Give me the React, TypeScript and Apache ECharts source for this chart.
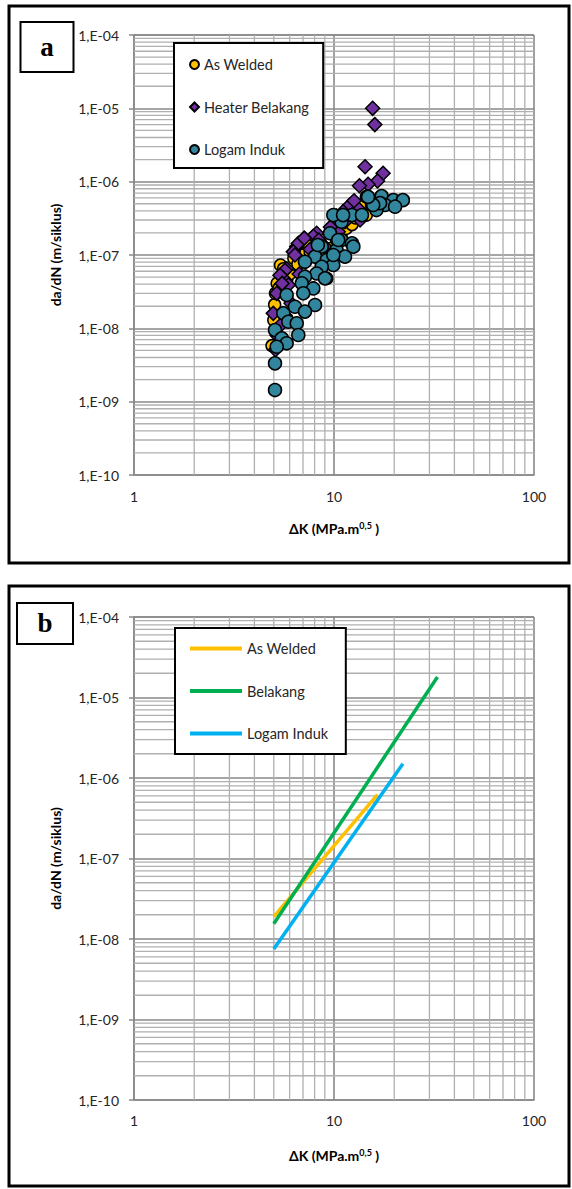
import React, { useEffect, useRef } from 'react';
import * as echarts from 'echarts';

// ---- tick labels ----
const xTickLabels: Record<number, string> = { 1: '1', 10: '10', 100: '100' };
const yTickLabels = ['1,E-10', '1,E-09', '1,E-08', '1,E-07', '1,E-06', '1,E-05', '1,E-04'];

// ---- Panel a : raw data (ΔK, da/dN) ----
const asWeldedK = [4.9, 5.0, 5.05, 5.1, 5.2, 5.3, 5.4, 5.5, 5.6, 5.8, 6.0, 6.3, 6.6, 7.0, 7.3, 7.6, 8.0, 8.6, 9.2, 9.7, 10.3, 10.9, 11.5, 12.3, 12.8, 13.8, 14.5, 15.5];
const asWeldedRate = [5.8e-9, 1.3e-8, 2.1e-8, 3.0e-8, 4.1e-8, 3.5e-8, 7.3e-8, 5.2e-8, 6.5e-8, 4.5e-8, 5.5e-8, 9.0e-8, 7.5e-8, 1.0e-7, 1.5e-7, 1.1e-7, 1.2e-7, 1.35e-7, 4.8e-8, 1.23e-7, 1.6e-7, 2.0e-7, 2.3e-7, 2.6e-7, 3.2e-7, 4.8e-7, 3.5e-7, 5.0e-7];

const heaterK = [15.6, 16.0, 14.3, 17.6, 16.5, 14.8, 13.4, 12.0, 13.2, 11.1, 13.5, 10.3, 11.35, 10.5, 8.19, 7.88, 8.4, 6.51, 6.63, 6.26, 6.38, 5.8, 5.69, 5.58, 5.37, 5.17, 5.91, 5.5, 4.97, 5.1, 5.2, 5.4, 5.7, 6.1, 6.7, 7.2, 7.6, 9.0, 9.6, 12.6, 7.1];
const heaterRate = [1.0e-5, 6.0e-6, 1.6e-6, 1.3e-6, 1.02e-6, 9.2e-7, 8.8e-7, 4.8e-7, 4.3e-7, 3.9e-7, 3.0e-7, 3.4e-7, 2.84e-7, 2.08e-7, 1.98e-7, 1.8e-7, 1.6e-7, 1.3e-7, 1.44e-7, 1.11e-7, 1.0e-7, 6.5e-8, 6.2e-8, 4.8e-8, 5.3e-8, 3.0e-8, 3.9e-8, 4.1e-8, 1.6e-8, 5.1e-9, 8.0e-9, 1.1e-8, 1.5e-8, 2.2e-8, 5.5e-8, 8.0e-8, 1.2e-7, 1.3e-7, 2.4e-7, 5.5e-7, 1.7e-7];

const logamK = [14.6, 17.3, 19.8, 22.1, 15.5, 18.0, 20.2, 16.3, 17.0, 15.7, 14.8, 12.3, 10.9, 13.8, 9.55, 10.9, 12.3, 8.68, 10.3, 11.35, 8.04, 9.2, 9.92, 8.68, 8.19, 7.16, 7.16, 9.02, 6.9, 9.92, 11.1, 10.5, 8.3, 12.5, 9.92, 7.88, 5.8, 7.02, 8.04, 6.38, 7.16, 5.58, 5.91, 6.51, 6.63, 5.07, 5.48, 5.8, 5.17, 5.07, 5.07];
const logamRate = [6.24e-7, 6.35e-7, 5.6e-7, 5.6e-7, 4.8e-7, 4.8e-7, 4.56e-7, 4.1e-7, 5.1e-7, 4.8e-7, 6.2e-7, 3.5e-7, 2.84e-7, 3.5e-7, 1.98e-7, 1.6e-7, 1.44e-7, 1.3e-7, 1.17e-7, 9.5e-8, 9.5e-8, 8.55e-8, 7.3e-8, 6.9e-8, 5.6e-8, 8.1e-8, 5.06e-8, 4.8e-8, 4.11e-8, 3.5e-7, 3.5e-7, 1.6e-7, 1.37e-7, 1.3e-7, 1.0e-7, 3.5e-8, 2.85e-8, 3.0e-8, 2.08e-8, 1.97e-8, 1.69e-8, 1.6e-8, 1.23e-8, 1.17e-8, 8.1e-9, 9.5e-9, 7.3e-9, 6.25e-9, 5.6e-9, 3.33e-9, 1.44e-9];

// ---- Panel b : fitted lines (ΔK, da/dN) ----
const fitAsWeldedK = [5.0, 16.5];
const fitAsWeldedRate = [1.9e-8, 6.2e-7];
const fitBelakangK = [5.0, 32.9];
const fitBelakangRate = [1.55e-8, 1.8e-5];
const fitLogamK = [5.0, 22.1];
const fitLogamRate = [7.5e-9, 1.5e-6];

const FONT = 'Lato, "Open Sans", sans-serif';
const TEXT = '#262626';
const MAJOR = '#888888';
const MINOR = '#b0b0b0';
const X_MIN = 1, X_MAX = 100, Y_MIN = 1e-10, Y_MAX = 1e-4;

const zip = (a: number[], b: number[]) => a.map((v, i) => [v, b[i]]);

const minorX: number[] = [];
[1, 10].forEach((d) => { for (let k = 2; k <= 9; k++) minorX.push(k * d); });
const minorY: number[] = [];
for (let e = -10; e <= -5; e++) for (let k = 2; k <= 9; k++) minorY.push(k * Math.pow(10, e));

// minor gridlines drawn as broken line series through the log axes
function gridSeries(idx: number) {
  const data: any[] = [];
  minorX.forEach((v) => { data.push([v, Y_MIN], [v, Y_MAX], [v, '-']); });
  minorY.forEach((v) => { data.push([X_MIN, v], [X_MAX, v], [X_MIN, '-']); });
  return {
    type: 'line',
    name: '_grid' + idx,
    xAxisIndex: idx,
    yAxisIndex: idx,
    data,
    silent: true,
    symbol: 'none',
    connectNulls: false,
    z: 1,
    lineStyle: { color: MINOR, width: 1.3 },
    emphasis: { disabled: true },
  };
}

const titleRich = {
  b: { fontFamily: FONT, fontWeight: 'bold', fontSize: 14, color: '#000' },
  s: { fontFamily: FONT, fontWeight: 'bold', fontSize: 9, color: '#000', verticalAlign: 'top', padding: [0, 0, 6, 0] },
};

function xAxisCfg(idx: number) {
  return {
    type: 'log',
    gridIndex: idx,
    min: X_MIN,
    max: X_MAX,
    logBase: 10,
    name: '{b|ΔK (MPa.m}{s|0,5}{b| )}',
    nameLocation: 'middle',
    nameGap: idx === 0 ? 46 : 48,
    nameTextStyle: { rich: titleRich },
    axisLine: { show: true, lineStyle: { color: MAJOR, width: 1.5 } },
    axisTick: { show: false },
    axisLabel: {
      fontFamily: FONT, fontSize: 14, color: TEXT, margin: idx === 0 ? 14 : 13,
      formatter: (v: number) => xTickLabels[Math.round(v)] ?? '',
    },
    splitLine: { show: true, lineStyle: { color: MAJOR, width: 1.6 } },
  };
}

function yAxisCfg(idx: number) {
  return {
    type: 'log',
    gridIndex: idx,
    min: Y_MIN,
    max: Y_MAX,
    logBase: 10,
    name: 'da/dN (m/siklus)',
    nameLocation: 'middle',
    nameGap: 72,
    nameTextStyle: { fontFamily: FONT, fontWeight: 'bold', fontSize: 14, color: '#000' },
    axisLine: { show: true, lineStyle: { color: MAJOR, width: 1.5 } },
    axisTick: { show: true, length: 5, lineStyle: { color: MAJOR, width: 1.5 } },
    axisLabel: {
      fontFamily: FONT, fontSize: 14, color: TEXT, margin: 15,
      formatter: (v: number) => yTickLabels[Math.round(Math.log10(v)) + 10] ?? '',
    },
    splitLine: { show: true, lineStyle: { color: MAJOR, width: 1.6 } },
  };
}

const scatterBase = {
  type: 'scatter',
  xAxisIndex: 0,
  yAxisIndex: 0,
  z: 3,
};

export default function App() {
  const ref = useRef<HTMLDivElement>(null);
  useEffect(() => {
    if (!ref.current) return;
    const chart = echarts.init(ref.current, undefined, { renderer: 'svg' });
    chart.setOption({
      animation: false,
      backgroundColor: '#fff',
      grid: [
        { left: 134, top: 35, width: 400, height: 440 },
        { left: 134, top: 617, width: 400, height: 483 },
      ],
      xAxis: [xAxisCfg(0), xAxisCfg(1)],
      yAxis: [yAxisCfg(0), yAxisCfg(1)],
      legend: [
        {
          left: 174, top: 43, orient: 'vertical',
          backgroundColor: '#fff', borderColor: '#000', borderWidth: 2,
          padding: [14, 14, 11, 15], itemGap: 27.5, itemWidth: 9, itemHeight: 9,
          textStyle: { fontFamily: FONT, fontSize: 14.5, color: TEXT },
          selectedMode: false,
          data: ['As Welded', 'Heater Belakang', 'Logam Induk'],
        },
        {
          left: 175, top: 628, orient: 'vertical',
          backgroundColor: '#fff', borderColor: '#000', borderWidth: 2,
          padding: [13, 14, 13, 15], itemGap: 27.5, itemWidth: 52, itemHeight: 4,
          icon: 'rect',
          textStyle: { fontFamily: FONT, fontSize: 14.5, color: TEXT },
          selectedMode: false,
          data: ['As Welded ', 'Belakang', 'Logam Induk '],
        },
      ],
      graphic: [
        { type: 'rect', shape: { x: 9, y: 6, width: 560, height: 557 }, style: { fill: 'none', stroke: '#000', lineWidth: 3 }, z: 100 },
        { type: 'rect', shape: { x: 9, y: 586, width: 560, height: 600 }, style: { fill: 'none', stroke: '#000', lineWidth: 3 }, z: 100 },
        { type: 'rect', shape: { x: 20.5, y: 22, width: 53, height: 50 }, style: { fill: '#fff', stroke: '#000', lineWidth: 2 }, z: 100 },
        { type: 'text', x: 47, y: 47, style: { text: 'a', font: 'bold 27px "Liberation Serif", serif', fill: '#000', align: 'center', verticalAlign: 'middle' }, z: 101 },
        { type: 'rect', shape: { x: 17, y: 603, width: 56, height: 41 }, style: { fill: '#fff', stroke: '#000', lineWidth: 2 }, z: 100 },
        { type: 'text', x: 45, y: 623, style: { text: 'b', font: 'bold 27px "Liberation Serif", serif', fill: '#000', align: 'center', verticalAlign: 'middle' }, z: 101 },
      ],
      series: [
        gridSeries(0),
        gridSeries(1),
        {
          ...scatterBase, name: 'As Welded', symbol: 'circle', symbolSize: 12,
          itemStyle: { color: '#FFC000', borderColor: '#000', borderWidth: 1.5, opacity: 1 },
          data: zip(asWeldedK, asWeldedRate),
        },
        {
          ...scatterBase, name: 'Heater Belakang', symbol: 'diamond', symbolSize: 14,
          itemStyle: { color: '#7030A0', borderColor: '#000', borderWidth: 1.5, opacity: 1 },
          data: zip(heaterK, heaterRate),
        },
        {
          ...scatterBase, name: 'Logam Induk', symbol: 'circle', symbolSize: 13,
          itemStyle: { color: '#31859C', borderColor: '#000', borderWidth: 1.5, opacity: 1 },
          data: zip(logamK, logamRate),
        },
        {
          type: 'line', name: 'As Welded ', xAxisIndex: 1, yAxisIndex: 1, symbol: 'none', z: 3,
          lineStyle: { color: '#FFC000', width: 3.5 }, itemStyle: { color: '#FFC000' },
          data: zip(fitAsWeldedK, fitAsWeldedRate),
        },
        {
          type: 'line', name: 'Belakang', xAxisIndex: 1, yAxisIndex: 1, symbol: 'none', z: 3,
          lineStyle: { color: '#00B050', width: 3.5 }, itemStyle: { color: '#00B050' },
          data: zip(fitBelakangK, fitBelakangRate),
        },
        {
          type: 'line', name: 'Logam Induk ', xAxisIndex: 1, yAxisIndex: 1, symbol: 'none', z: 3,
          lineStyle: { color: '#00B0F0', width: 3.5 }, itemStyle: { color: '#00B0F0' },
          data: zip(fitLogamK, fitLogamRate),
        },
      ],
    });
    return () => chart.dispose();
  }, []);
  return (
    <div
      ref={ref}
      style={{ position: 'absolute', left: 0, top: 0, width: 572, height: 1189, background: '#fff' }}
    />
  );
}
